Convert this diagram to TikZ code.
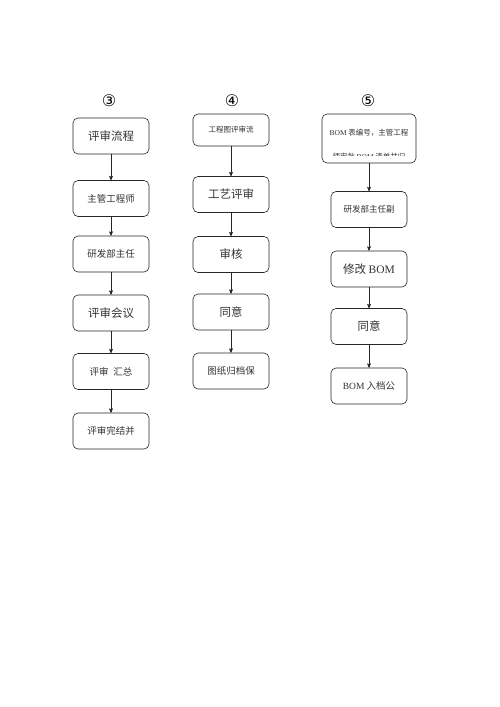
\documentclass[tikz,border=0pt]{standalone}
\usepackage{fontspec}
\setmainfont{Liberation Serif}
\newfontfamily\cjk{Noto Sans CJK SC}
\newfontfamily\circfont{DejaVu Sans}
\usetikzlibrary{arrows}

\tikzset{
 box/.style={draw=black!85, line width=0.6, rounded corners=5, minimum width=76, minimum height=36, inner sep=1, text=black!80},
 big/.style={font=\cjk\fontsize{11.5}{13}\selectfont},
 small/.style={font=\cjk\fontsize{9.5}{11}\selectfont},
 tiny/.style={font=\cjk\fontsize{7.5}{9}\selectfont},
 num/.style={font=\circfont\fontsize{16}{16}\selectfont},
}

\begin{document}
\begin{tikzpicture}[x=1pt, y=-1pt]
\fill[white] (0,0) rectangle (500,707);
\useasboundingbox (0,0) rectangle (500,707);

% column 3
\node[num] (n3) at (109,101) {③};
\node[box, big]   (c3a) at (111,136)   {评审流程};
\node[box, small] (c3b) at (111,198.5) {主管工程师};
\node[box, small] (c3c) at (111,254)   {研发部主任};
\node[box, big]   (c3d) at (111,313)   {评审会议};
\node[box, small] (c3e) at (111,371.5) {评审\hspace{0.5em}汇总\hspace{12pt}};
\node[box, small] (c3f) at (111,431)   {评审完结并};

% column 4
\node[num] (n4) at (232,101) {④};
\node[box, tiny, minimum height=32] (c4a) at (231,130) {工程图评审流};
\node[box, big]   (c4b) at (231,194.5) {工艺评审};
\node[box, big]   (c4c) at (231,254.5) {审核};
\node[box, big]   (c4d) at (231,312)   {同意};
\node[box, small] (c4e) at (231,371)   {图纸归档保};

% column 5
\node[num] (n5) at (368,101) {⑤};
\node[box, minimum width=94, minimum height=49] (c5a) at (369,138.5) {};
\node[tiny, text=black!80] (c5t) at (369,133) {\textrm{BOM} 表编号，主管工程};
\begin{scope}
 \clip (c5a.west |- 0,145) rectangle (c5a.east |- 0,155.3);
 \node[tiny, text=black!80] (c5u) at (369,157) {师审批 \textrm{BOM} 清单并归};
\end{scope}
\node[box, small, font=\cjk\fontsize{8.5}{10}\selectfont] (c5b) at (369,209.5) {研发部主任副};
\node[box, big]   (c5c) at (369,269)   {修改 \textrm{BOM}};
\node[box, big]   (c5d) at (369,326.5) {同意};
\node[box, small] (c5e) at (369,386)   {\textrm{BOM} 入档公};

\foreach \a/\b in {c3a/c3b, c3b/c3c, c3c/c3d, c3d/c3e, c3e/c3f,
                   c4a/c4b, c4b/c4c, c4c/c4d, c4d/c4e,
                   c5a/c5b, c5b/c5c, c5c/c5d, c5d/c5e} {
 \draw[black!85, line width=0.6, ->, >=stealth'] (\a) -- (\b);
}
\end{tikzpicture}
\end{document}
